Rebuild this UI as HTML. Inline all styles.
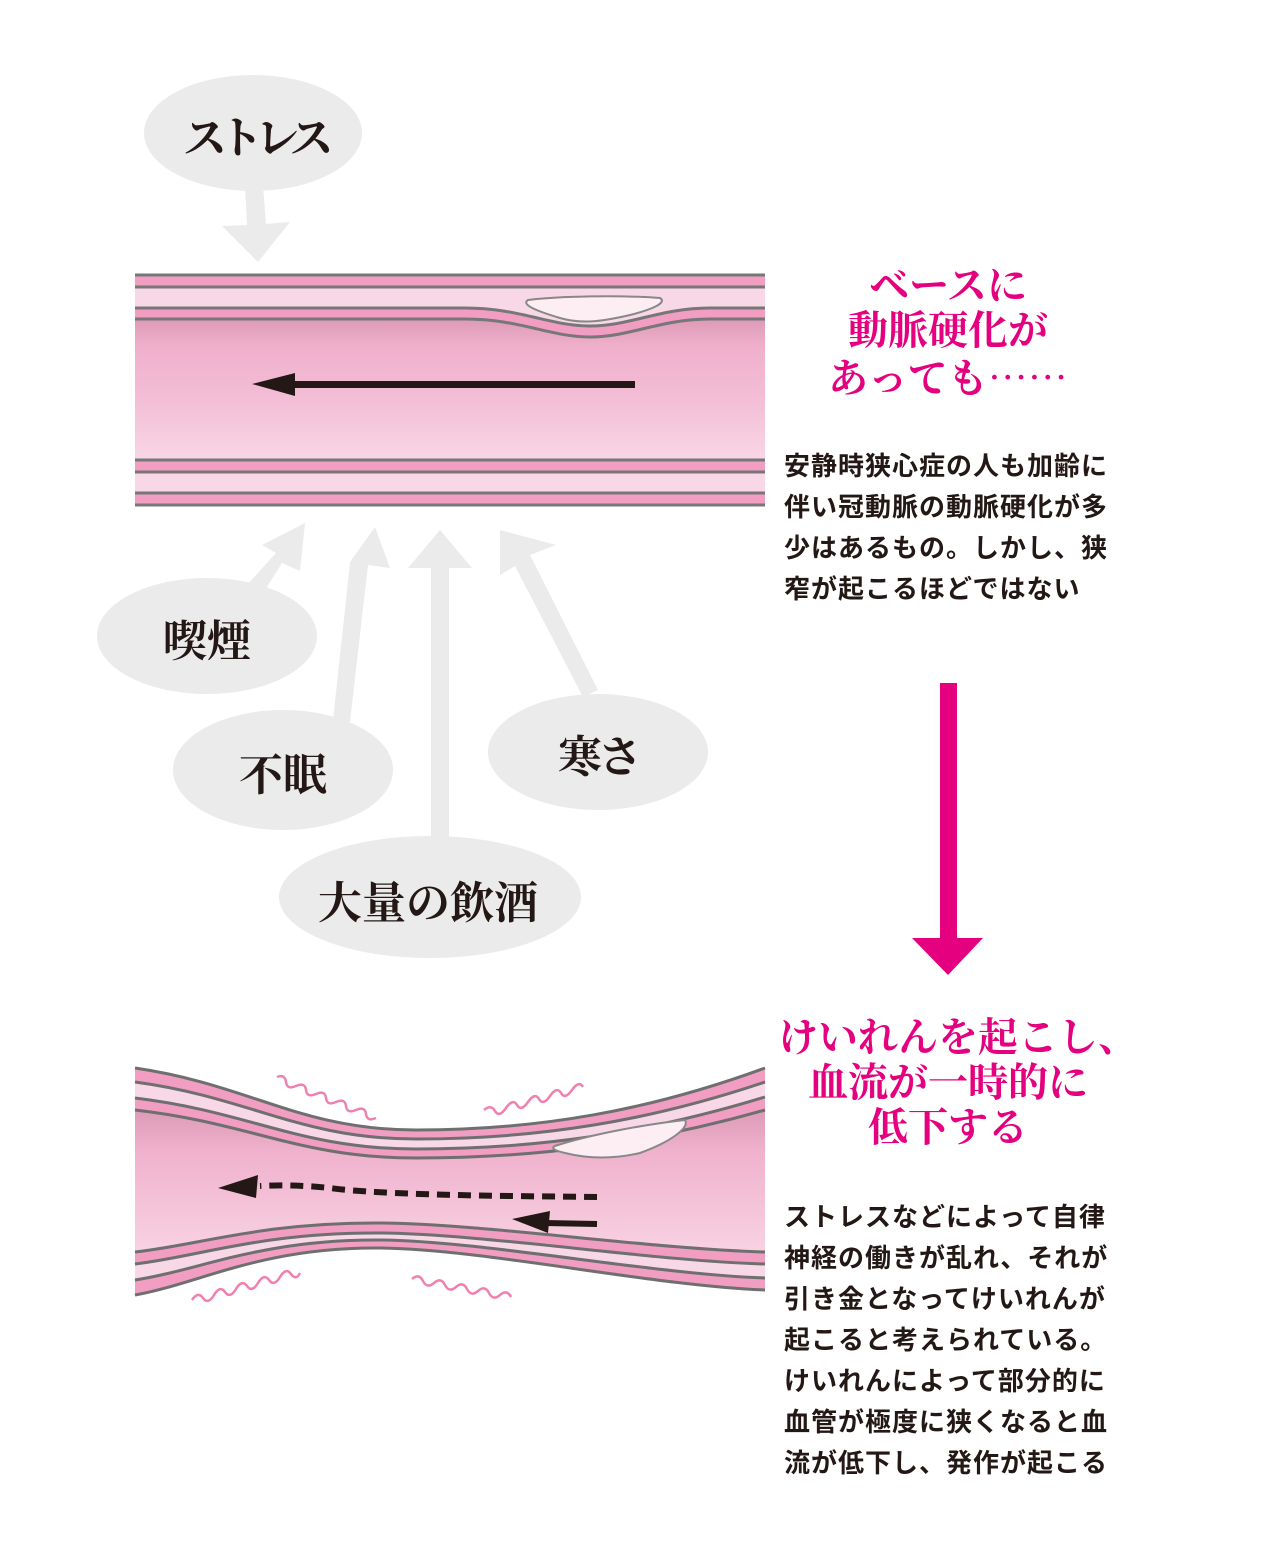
<!DOCTYPE html>
<html><head><meta charset="utf-8"><style>
html,body{margin:0;padding:0;background:#fff}
body{width:1280px;height:1553px;position:relative;overflow:hidden}
svg{position:absolute;left:0;top:0}
.t{position:absolute;white-space:nowrap}
.body{font-family:"Liberation Sans","Noto Sans CJK JP",sans-serif;font-size:26px;line-height:41px;color:#231815;left:784px;letter-spacing:1px;font-weight:700}
.head{font-family:"Liberation Serif","Noto Serif CJK JP",serif;font-size:40px;line-height:45px;color:#e4007f;font-weight:700;width:340px;left:778px;text-align:center}
.bub{font-family:"Liberation Serif","Noto Serif CJK JP",serif;font-size:44px;font-weight:700;color:#231815}
.cj{font-family:"Noto Serif CJK JP",serif}
</style></head><body>
<svg width="1280" height="1553" viewBox="0 0 1280 1553">
<defs>
<linearGradient id="lg" x1="0" y1="0" x2="0" y2="1">
<stop offset="0" stop-color="#dc9ab6"/><stop offset="0.2" stop-color="#f0b0cc"/><stop offset="0.55" stop-color="#f3bdd5"/><stop offset="1" stop-color="#f8d6e5"/>
</linearGradient>
<linearGradient id="lg2" x1="0" y1="0" x2="0" y2="1">
<stop offset="0" stop-color="#dc9ab6"/><stop offset="0.3" stop-color="#f0b2cd"/><stop offset="1" stop-color="#f8d2e2"/>
</linearGradient>
</defs>
<g fill="#ebebeb">
<ellipse cx="253" cy="133" rx="109" ry="58"/>
<ellipse cx="207" cy="636" rx="110" ry="58"/>
<ellipse cx="283" cy="770" rx="110" ry="60"/>
<ellipse cx="598" cy="752" rx="110" ry="58"/>
<ellipse cx="430" cy="897" rx="151" ry="61"/>
<polygon points="245,188 263,186 266,224 290,222 258,262 222,226 247,225"/>
<polygon points="247,585 262,595 282,563 300,571 305,523 262,545 276,553"/>
<polygon points="333,720 350,722 368,565 390,568 375,527 350,562 350,563"/>
<polygon points="431,840 449,840 449,568 472,568 440,530 408,568 431,568"/>
<polygon points="583,697 598,690 530,555 556,545 500,530 500,575 515,566"/>
</g>
<g>
<rect x="135" y="274" width="630" height="232" fill="#f8d8e6"/>
<rect x="135" y="275" width="630" height="12" fill="#f19ec2"/>
<rect x="135" y="460" width="630" height="12" fill="#f19ec2"/>
<rect x="135" y="493" width="630" height="12" fill="#f19ec2"/>
<path d="M135,319 L465,319 C520,319 550,337 590,337 C630,337 660,319 710,319 L765,319 L765,460 L135,460 Z" fill="url(#lg)"/>
<path d="M135,313 L465,313 C520,313 550,331 590,331 C630,331 660,313 710,313 L765,313" fill="none" stroke="#f19ec2" stroke-width="11"/>
<g fill="none" stroke="#777" stroke-width="3">
<line x1="135" y1="275" x2="765" y2="275"/><line x1="135" y1="287" x2="765" y2="287"/>
<line x1="135" y1="460" x2="765" y2="460"/><line x1="135" y1="472" x2="765" y2="472"/>
<line x1="135" y1="493" x2="765" y2="493"/><line x1="135" y1="505" x2="765" y2="505"/>
<path d="M135,308 L465,308 C520,308 550,326 590,326 C630,326 660,308 710,308 L765,308"/>
<path d="M135,319 L465,319 C520,319 550,337 590,337 C630,337 660,319 710,319 L765,319"/>
</g>
<path d="M528,300 C560,296 620,295 660,298 C668,303 650,310 630,315 C600,322 580,324 560,318 C540,312 520,305 528,300 Z" fill="#fdeef4" stroke="#888" stroke-width="2"/>
<rect x="290" y="381" width="345" height="7" fill="#231815"/>
<polygon points="252,384 295,373 295,396" fill="#231815"/>
</g>
<rect x="940" y="683" width="17" height="258" fill="#e4007f"/>
<polygon points="912,938 983,938 948,975" fill="#e4007f"/>
<g id="bv"></g>
<g>
<path d="M558,1145 C590,1135 640,1125 685,1120 C690,1128 670,1142 640,1153 C610,1160 585,1158 565,1153 C552,1150 550,1147 558,1145 Z" fill="#fdeef4" stroke="#888" stroke-width="2"/>
<path d="M597,1197 C500,1196 380,1195 330,1188 C300,1185 280,1185 260,1186" fill="none" stroke="#231815" stroke-width="6" stroke-dasharray="13,8"/>
<polygon points="218,1188 258,1175 256,1198" fill="#231815"/>
<line x1="545" y1="1223" x2="597" y2="1224" stroke="#231815" stroke-width="6"/>
<polygon points="512,1219 550,1211 548,1233" fill="#231815"/>
<g fill="none" stroke="#f080b0" stroke-width="2.5">
<path d="M277,1077 q8,-3 9,5 t10,4 t10,4 t10,4 t10,4 t10,4 t10,4 t10,4 t10,4 t10,4" />
<path d="M484,1110 q7,-6 11,1 t11,-3 t11,-3 t11,-3 t11,-3 t11,-3 t11,-3 t11,-3 t11,-3"/>
<path d="M192,1300 q6,-9 11,-2 t11,-3 t11,-3 t11,-3 t11,-3 t11,-3 t11,-3 t11,-3 t11,-3 t9,-1"/>
<path d="M412,1279 q7,-6 11,2 t11,2 t11,2 t11,2 t11,2 t11,2 t11,2 t11,2 t11,2"/>
</g>
</g>
</svg>
<script>
(function(){
function T(a,m,r){return [[135,a],[250,a+(m-a)*0.27],[300,m],[416,m],[540,m],[650,m-(m-r)*0.32],[765,r]];}
function B(a,m,r){return [[135,a],[200,a-(a-m)*0.25],[260,m],[375,m],[480,m],[650,r-(r-m)*0.1],[765,r]];}
function fwd(p){return "M"+p[0]+" C"+p[1]+" "+p[2]+" "+p[3]+" C"+p[4]+" "+p[5]+" "+p[6];}
function rev(p){return "L"+p[6]+" C"+p[5]+" "+p[4]+" "+p[3]+" C"+p[2]+" "+p[1]+" "+p[0];}
function band(p,q,f){return '<path d="'+fwd(p)+" "+rev(q)+' Z" fill="'+f+'"/>';}
var t0=T(1068,1130,1068),t1=T(1082,1139,1082),t2=T(1098,1149,1097),t3=T(1110,1158,1110);
var b0=B(1252,1223,1252),b1=B(1264,1233,1264),b2=B(1280,1240,1278),b3=B(1295,1248,1290);
var s="";
s+=band(t0,t1,"#f19ec2");s+=band(t1,t2,"#f8d8e6");s+=band(t2,t3,"#f19ec2");
s+=band(t3,b0,"url(#lg2)");
s+=band(b0,b1,"#f19ec2");s+=band(b1,b2,"#f8d8e6");s+=band(b2,b3,"#f19ec2");
[t0,t1,t2,t3,b0,b1,b2,b3].forEach(function(p){s+='<path d="'+fwd(p)+'" fill="none" stroke="#6f6f6f" stroke-width="3"/>';});
document.getElementById("bv").innerHTML=s;
})();
</script>
<div class="t bub" style="left:183px;top:102px;letter-spacing:-8px">ストレス</div>
<div class="t bub" style="left:163px;top:605px">喫煙</div>
<div class="t bub" style="left:239px;top:739px">不眠</div>
<div class="t bub" style="left:558px;top:721px;letter-spacing:-4px">寒さ</div>
<div class="t bub" style="left:318px;top:867px">大量の飲酒</div>
<div class="t head" style="top:263px">ベースに<br>動脈硬化が<br>あっても<span class="cj">……</span></div>
<div class="t body" style="top:446px">安静時狭心症の人も加齢に<br>伴い冠動脈の動脈硬化が多<br>少はあるもの。しかし、狭<br>窄が起こるほどではない</div>
<div class="t head" style="top:1015px">けいれんを起こし、<br>血流が一時的に<br>低下する</div>
<div class="t body" style="top:1197px">ストレスなどによって自律<br>神経の働きが乱れ、それが<br>引き金となってけいれんが<br>起こると考えられている。<br>けいれんによって部分的に<br>血管が極度に狭くなると血<br>流が低下し、発作が起こる</div>
</body></html>
